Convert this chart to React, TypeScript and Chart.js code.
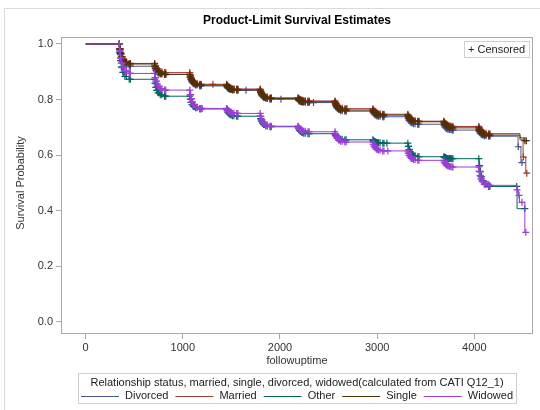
import React, { useEffect, useRef } from "react";
import { Chart, registerables } from "chart.js";

Chart.register(...registerables);

const chartTitle = "Product-Limit Survival Estimates";
const xAxisTitle = "followuptime";
const yAxisTitle = "Survival Probability";
const legendTitle = "Relationship status, married, single, divorced, widowed(calculated from CATI Q12_1)";
const censorLabel = "+ Censored";

const seriesNames = ["Divorced", "Married", "Other", "Single", "Widowed"];
const seriesColors = ["#445694", "#A23A2E", "#01665E", "#543005", "#9D3CDB"];

const xTicks = [0, 1000, 2000, 3000, 4000];
const yTicks = [0, 0.2, 0.4, 0.6, 0.8, 1.0];
const xRange = [-254, 4604];
const yRange = [-0.0443, 1.0252];

// event times of the yearly follow-up waves (days)
const waveTimes = [
  350, 358, 368, 382, 404, 448,
  714, 722, 732, 746, 768, 812,
  1076, 1084, 1094, 1108, 1130, 1174,
  1456, 1464, 1474, 1488, 1510, 1554,
  1800, 1808, 1818, 1832, 1854, 1898,
  2190, 2198, 2208, 2222, 2244, 2288,
  2570, 2578, 2588, 2602, 2624, 2668,
  2960, 2968, 2978, 2992, 3014, 3058,
  3320, 3328, 3338, 3352, 3374, 3418,
  3690, 3698, 3708, 3722, 3744, 3770,
  4050, 4058, 4068, 4082, 4104, 4148,
];

// censoring times shared by all groups (wave clusters)
const waveCensorTimes = [
  346, 350, 354, 358, 363, 368, 375, 382, 392, 404, 420, 448, 460,
  710, 714, 718, 722, 727, 732, 739, 746, 756, 768, 784, 812, 824,
  1072, 1076, 1080, 1084, 1089, 1094, 1101, 1108, 1118, 1130, 1146, 1174, 1186,
  1452, 1456, 1460, 1464, 1469, 1474, 1481, 1488, 1498, 1510, 1526, 1554, 1566,
  1796, 1800, 1804, 1808, 1813, 1818, 1825, 1832, 1842, 1854, 1870, 1898, 1910,
  2186, 2190, 2194, 2198, 2203, 2208, 2215, 2222, 2232, 2244, 2260, 2288, 2300,
  2566, 2570, 2574, 2578, 2583, 2588, 2595, 2602, 2612, 2624, 2640, 2668, 2680,
  2956, 2960, 2964, 2968, 2973, 2978, 2985, 2992, 3002, 3014, 3030, 3058, 3070,
  3316, 3320, 3324, 3328, 3333, 3338, 3345, 3352, 3362, 3374, 3390, 3418, 3430,
  3686, 3690, 3694, 3698, 3703, 3708, 3715, 3722, 3732, 3744, 3758, 3770, 3780,
  4046, 4050, 4054, 4058, 4063, 4068, 4075, 4082, 4092, 4104, 4120, 4148, 4160,
];

// survival estimates at the wave event times
const divorcedWaveSurv = [
  0.980, 0.962, 0.948, 0.936, 0.926, 0.920,
  0.913, 0.906, 0.901, 0.896, 0.892, 0.890,
  0.880, 0.871, 0.863, 0.857, 0.852, 0.849,
  0.845, 0.841, 0.839, 0.836, 0.834, 0.833,
  0.825, 0.818, 0.812, 0.807, 0.804, 0.801,
  0.798, 0.795, 0.793, 0.791, 0.790, 0.789,
  0.781, 0.774, 0.769, 0.764, 0.760, 0.758,
  0.753, 0.749, 0.745, 0.742, 0.740, 0.738,
  0.731, 0.725, 0.720, 0.716, 0.713, 0.711,
  0.706, 0.701, 0.697, 0.694, 0.692, 0.690,
  0.685, 0.680, 0.676, 0.672, 0.670, 0.668,
];
const marriedWaveSurv = [
  0.983, 0.967, 0.955, 0.944, 0.936, 0.930,
  0.922, 0.914, 0.909, 0.904, 0.900, 0.897,
  0.887, 0.877, 0.870, 0.863, 0.858, 0.855,
  0.851, 0.847, 0.844, 0.841, 0.839, 0.838,
  0.830, 0.823, 0.817, 0.812, 0.809, 0.806,
  0.803, 0.801, 0.799, 0.797, 0.796, 0.795,
  0.788, 0.782, 0.777, 0.773, 0.769, 0.767,
  0.762, 0.758, 0.754, 0.751, 0.749, 0.747,
  0.741, 0.735, 0.731, 0.727, 0.724, 0.722,
  0.717, 0.713, 0.710, 0.707, 0.705, 0.703,
  0.697, 0.691, 0.686, 0.682, 0.679, 0.677,
];
const otherWaveSurv = [
  0.968, 0.940, 0.917, 0.898, 0.883, 0.873,
  0.858, 0.844, 0.833, 0.824, 0.817, 0.812,
  0.801, 0.790, 0.782, 0.775, 0.770, 0.766,
  0.760, 0.754, 0.749, 0.745, 0.742, 0.740,
  0.731, 0.722, 0.715, 0.710, 0.705, 0.702,
  0.696, 0.690, 0.686, 0.682, 0.679, 0.677,
  0.672, 0.667, 0.663, 0.659, 0.657, 0.655,
  0.652, 0.649, 0.647, 0.645, 0.644, 0.643,
  0.631, 0.620, 0.611, 0.604, 0.598, 0.594,
  0.592, 0.591, 0.589, 0.588, 0.588, 0.587,
  0.562, 0.540, 0.522, 0.507, 0.495, 0.487,
];
const singleWaveSurv = [
  0.982, 0.966, 0.953, 0.942, 0.934, 0.928,
  0.919, 0.911, 0.904, 0.898, 0.894, 0.891,
  0.881, 0.873, 0.866, 0.860, 0.855, 0.852,
  0.848, 0.844, 0.841, 0.838, 0.836, 0.835,
  0.827, 0.820, 0.815, 0.810, 0.806, 0.804,
  0.801, 0.798, 0.796, 0.794, 0.793, 0.792,
  0.785, 0.778, 0.773, 0.768, 0.764, 0.762,
  0.758, 0.754, 0.750, 0.748, 0.745, 0.744,
  0.738, 0.733, 0.728, 0.725, 0.722, 0.720,
  0.715, 0.710, 0.706, 0.702, 0.700, 0.698,
  0.692, 0.686, 0.681, 0.677, 0.674, 0.672,
];
const widowedWaveSurv = [
  0.974, 0.950, 0.931, 0.915, 0.902, 0.894,
  0.879, 0.866, 0.855, 0.846, 0.839, 0.834,
  0.818, 0.803, 0.791, 0.781, 0.773, 0.768,
  0.764, 0.760, 0.756, 0.754, 0.751, 0.750,
  0.739, 0.728, 0.720, 0.713, 0.708, 0.704,
  0.699, 0.695, 0.691, 0.688, 0.686, 0.684,
  0.675, 0.667, 0.660, 0.654, 0.650, 0.647,
  0.639, 0.632, 0.626, 0.621, 0.618, 0.615,
  0.607, 0.599, 0.593, 0.588, 0.584, 0.581,
  0.575, 0.570, 0.565, 0.562, 0.559, 0.557,
  0.541, 0.526, 0.514, 0.504, 0.496, 0.491,
];

// final-year events per group
const divorcedTailTimes = [4450, 4480];
const divorcedTailSurv = [0.63, 0.573];
const marriedTailTimes = [4470, 4502, 4530];
const marriedTailSurv = [0.655, 0.593, 0.535];
const otherTailTimes = [4440];
const otherTailSurv = [0.407];
const singleTailTimes = [4470, 4510];
const singleTailSurv = [0.662, 0.652];
const widowedTailTimes = [4435, 4455, 4465, 4520];
const widowedTailSurv = [0.475, 0.455, 0.43, 0.322];

// last follow-up time per group
const lastTimes = [4492, 4545, 4522, 4535, 4532];

// extra individual censored observations per group
const divorcedExtraCensor = [1650, 2010, 2345, 3060, 3420, 3780, 4452, 4490];
const marriedExtraCensor = [1310, 2690, 4505, 4540];
const otherExtraCensor = [3100, 3760, 4140, 4437, 4520];
const singleExtraCensor = [1190, 4520, 4535];
const widowedExtraCensor = [1200, 3110, 4440, 4460, 4490, 4530];

const FONT = "'Liberation Sans', Arial, Helvetica, sans-serif";

function survAt(times: number[], surv: number[], t: number): number {
  let s = 1;
  for (let i = 0; i < times.length; i++) {
    if (times[i] <= t) s = surv[i];
    else break;
  }
  return s;
}

export default function App() {
  const canvasRef = useRef<HTMLCanvasElement | null>(null);

  useEffect(() => {
    document.body.style.margin = "0";
    const canvas = canvasRef.current;
    if (!canvas) return;

    const groups = [
      { tt: divorcedTailTimes, ts: divorcedTailSurv, ws: divorcedWaveSurv, ex: divorcedExtraCensor },
      { tt: marriedTailTimes, ts: marriedTailSurv, ws: marriedWaveSurv, ex: marriedExtraCensor },
      { tt: otherTailTimes, ts: otherTailSurv, ws: otherWaveSurv, ex: otherExtraCensor },
      { tt: singleTailTimes, ts: singleTailSurv, ws: singleWaveSurv, ex: singleExtraCensor },
      { tt: widowedTailTimes, ts: widowedTailSurv, ws: widowedWaveSurv, ex: widowedExtraCensor },
    ];

    const datasets: any[] = [];
    groups.forEach((g, i) => {
      const times = [...waveTimes, ...g.tt];
      const surv = [...g.ws, ...g.ts];
      const line = [{ x: 0, y: 1 }, ...times.map((t, k) => ({ x: t, y: surv[k] }))];
      line.push({ x: lastTimes[i], y: surv[surv.length - 1] });
      const cTimes = [...waveCensorTimes, ...g.ex].sort((a, b) => a - b);
      const cens = cTimes.map((t) => ({ x: t, y: survAt(times, surv, t) }));
      const order = 4 - i;
      datasets.push({
        type: "line",
        label: seriesNames[i],
        data: line,
        stepped: "before",
        borderColor: seriesColors[i],
        borderWidth: 1,
        pointRadius: 0,
        fill: false,
        order,
      });
      datasets.push({
        type: "scatter",
        label: seriesNames[i] + " censored",
        data: cens,
        showLine: false,
        pointStyle: "cross",
        pointRadius: 3.5,
        pointBorderWidth: 1.2,
        borderColor: seriesColors[i],
        backgroundColor: seriesColors[i],
        order,
      });
    });

    const decor = {
      id: "decor",
      beforeDatasetsDraw(chart: any) {
        const { ctx, chartArea: a } = chart;
        ctx.save();
        ctx.strokeStyle = "#a8a8a8";
        ctx.lineWidth = 1;
        ctx.strokeRect(a.left + 0.5, a.top + 0.5, a.right - a.left - 1, a.bottom - a.top - 1);
        ctx.restore();
      },
      afterDraw(chart: any) {
        const { ctx, chartArea: a } = chart;
        const cx = (a.left + a.right) / 2;
        ctx.save();
        // outer frame
        ctx.strokeStyle = "#dadada";
        ctx.lineWidth = 1;
        ctx.beginPath();
        ctx.moveTo(4.5, 410);
        ctx.lineTo(4.5, 8.5);
        ctx.lineTo(540, 8.5);
        ctx.stroke();

        // title
        ctx.fillStyle = "#000";
        ctx.font = `bold 12px ${FONT}`;
        ctx.textAlign = "center";
        ctx.textBaseline = "middle";
        ctx.fillText(chartTitle, cx, 21);

        // axis titles
        ctx.fillStyle = "#333";
        ctx.font = `11px ${FONT}`;
        ctx.fillText(xAxisTitle, cx, 361);
        ctx.save();
        ctx.translate(21, 183);
        ctx.rotate(-Math.PI / 2);
        ctx.fillText(yAxisTitle, 0, 0);
        ctx.restore();

        // censored inset
        ctx.font = `11px ${FONT}`;
        const cw = ctx.measureText(censorLabel).width;
        const bx1 = a.right - 4;
        const bx0 = Math.round(bx1 - cw - 8);
        ctx.fillStyle = "#fff";
        ctx.fillRect(bx0, 41, bx1 - bx0, 16);
        ctx.strokeStyle = "#cfcfcf";
        ctx.strokeRect(bx0 + 0.5, 41.5, bx1 - bx0, 16);
        ctx.fillStyle = "#222";
        ctx.textAlign = "left";
        ctx.fillText(censorLabel, bx0 + 4, 49.5);

        // legend
        ctx.font = `11px ${FONT}`;
        const lineLen = 38, gapLT = 6, gapItem = 7;
        const widths = seriesNames.map((n) => ctx.measureText(n).width);
        const rowW = widths.reduce((s, w) => s + w + lineLen + gapLT, 0) + gapItem * (seriesNames.length - 1);
        const titleW = ctx.measureText(legendTitle).width;
        const boxW = Math.max(rowW, titleW) + 6;
        const lx0 = Math.round(cx - boxW / 2);
        ctx.strokeStyle = "#cfcfcf";
        ctx.strokeRect(lx0 + 0.5, 373.5, Math.round(boxW), 30);
        ctx.fillStyle = "#222";
        ctx.textAlign = "center";
        ctx.fillText(legendTitle, cx, 383);
        let x = cx - rowW / 2;
        ctx.textAlign = "left";
        seriesNames.forEach((n, i) => {
          ctx.strokeStyle = seriesColors[i];
          ctx.beginPath();
          ctx.moveTo(x, 396.5);
          ctx.lineTo(x + lineLen, 396.5);
          ctx.stroke();
          x += lineLen + gapLT;
          ctx.fillStyle = "#222";
          ctx.fillText(n, x, 396);
          x += widths[i] + gapItem;
        });
        ctx.restore();
      },
    };

    const tickFont = { family: FONT, size: 11 };
    const chart = new Chart(canvas, {
      type: "line",
      data: { datasets },
      plugins: [decor],
      options: {
        responsive: false,
        animation: false,
        devicePixelRatio: 1,
        layout: { padding: { top: 37, right: 7, bottom: 56, left: 0 } },
        plugins: {
          legend: { display: false },
          title: { display: false },
          tooltip: { enabled: false },
        },
        scales: {
          x: {
            type: "linear",
            min: xRange[0],
            max: xRange[1],
            afterBuildTicks: (s: any) => {
              s.ticks = xTicks.map((v) => ({ value: v }));
            },
            afterFit: (s: any) => {
              s.height = 20;
            },
            border: { display: false },
            grid: { display: true, drawOnChartArea: false, drawTicks: true, tickLength: 5, color: "#a8a8a8" },
            ticks: {
              font: tickFont,
              color: "#333",
              padding: 2,
              maxRotation: 0,
              autoSkip: false,
              callback: (v: any) => String(v),
            },
          },
          y: {
            type: "linear",
            min: yRange[0],
            max: yRange[1],
            afterBuildTicks: (s: any) => {
              s.ticks = yTicks.map((v) => ({ value: v }));
            },
            afterFit: (s: any) => {
              s.width = 61;
            },
            border: { display: false },
            grid: { display: true, drawOnChartArea: false, drawTicks: true, tickLength: 5, color: "#a8a8a8" },
            ticks: {
              font: tickFont,
              color: "#333",
              padding: 3,
              autoSkip: false,
              callback: (v: any) => Number(v).toFixed(1),
            },
          },
        },
      },
    } as any);

    return () => chart.destroy();
  }, []);

  return (
    <div style={{ width: 540, height: 410 }}>
      <canvas ref={canvasRef} width={540} height={410} style={{ display: "block", width: 540, height: 410 }} />
    </div>
  );
}
